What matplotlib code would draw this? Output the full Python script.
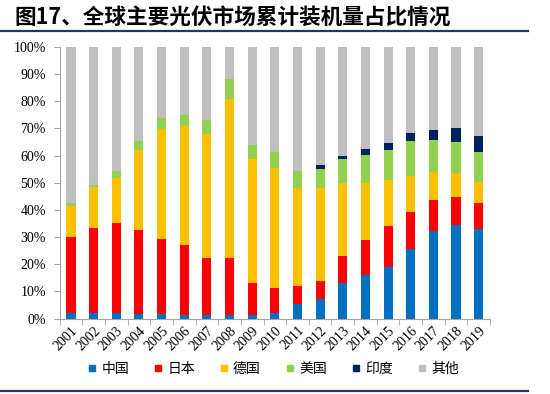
import matplotlib
matplotlib.use("Agg")
import matplotlib.pyplot as plt
from matplotlib.lines import Line2D
import numpy as np

years = [str(y) for y in range(2001, 2020)]
# cumulative tops (%)
china_top = [2.2, 2.2, 2.2, 1.8, 1.5, 1.3, 1.2, 1.2, 1.2, 2.0, 5.3, 7.1, 12.9, 16.1, 19.1, 25.6, 32.1, 34.4, 32.8]
japan_top = [30.1, 33.2, 35.2, 32.6, 29.4, 27.1, 22.2, 22.2, 12.9, 11.2, 12.1, 13.7, 22.9, 28.9, 33.9, 39.3, 43.6, 44.9, 42.4]
germany_top = [41.5, 48.3, 51.6, 62.0, 69.9, 71.0, 67.8, 80.8, 58.6, 55.5, 48.2, 47.9, 49.9, 50.0, 51.0, 52.6, 53.9, 53.7, 50.1]
usa_top = [42.4, 49.0, 54.3, 65.4, 73.8, 75.0, 73.0, 88.1, 63.8, 61.2, 54.3, 55.0, 58.6, 60.4, 62.0, 65.4, 65.9, 65.1, 61.3]
india_top = [42.4, 49.0, 54.3, 65.4, 73.8, 75.0, 73.0, 88.1, 63.8, 61.2, 54.3, 56.5, 59.9, 62.5, 64.5, 68.5, 69.4, 70.1, 67.4]

tops = [china_top, japan_top, germany_top, usa_top, india_top, [100.0] * len(years)]
labels = ["中国", "日本", "德国", "美国", "印度", "其他"]
colors = ["#0070C0", "#FF0000", "#FFC000", "#92D050", "#002060", "#BFBFBF"]

fig = plt.figure(figsize=(5.5, 3.94), dpi=100)
ax = fig.add_axes([59.7 / 550, 1 - 318.5 / 394, (490 - 59.7) / 550, (318.5 - 47) / 394])

x = np.arange(len(years))
prev = np.zeros(len(years))
for top, lab, col in zip(tops, labels, colors):
    t = np.array(top)
    ax.bar(x, t - prev, bottom=prev, width=0.4, color=col, label=lab, linewidth=0)
    prev = t

ax.set_xlim(-0.5, len(years) - 0.5)
ax.set_ylim(0, 100)
ax.set_yticks(np.arange(0, 101, 10))
ax.set_yticklabels([f"{v}%" for v in range(0, 101, 10)], fontfamily="Liberation Serif", fontsize=10)
ax.set_xticks(x)
ax.set_xticklabels(years, rotation=45, ha="right", rotation_mode="anchor",
                   fontfamily="Liberation Serif", fontsize=10)
ax.tick_params(axis="x", length=0, pad=4)
ax.set_xticks(np.arange(-0.5, len(years), 1), minor=True)
ax.tick_params(axis="x", which="minor", length=4, color="#A6A6A6", direction="out")
ax.tick_params(axis="y", length=4, color="#A6A6A6", direction="out", pad=6)
for s in ["top", "right"]:
    ax.spines[s].set_visible(False)
for s in ["left", "bottom"]:
    ax.spines[s].set_color("#A6A6A6")
    ax.spines[s].set_linewidth(0.8)

handles = [Line2D([], [], marker="s", linestyle="none", markersize=5, color=c) for c in colors]
fig.legend(handles, labels, loc="center", bbox_to_anchor=(273 / 550, 1 - 369 / 394), ncol=6,
           frameon=False, prop={"family": "Noto Sans CJK SC", "size": 10},
           handlelength=0.7, handletextpad=0.3, columnspacing=1.75)

fig.text(14 / 550, 1 - 18 / 394, "图17、全球主要光伏市场累计装机量占比情况", fontsize=15.6,
         fontweight="bold", family=["Noto Sans CJK SC", "DejaVu Sans"], va="center", ha="left")

fig.add_artist(Line2D([0, 528 / 550], [1 - 31 / 394] * 2, color="#1F3864", linewidth=1.6,
                      transform=fig.transFigure))
fig.add_artist(Line2D([0, 528 / 550], [1 - 391 / 394] * 2, color="#1F3864", linewidth=1.6,
                      transform=fig.transFigure))

fig.savefig("out.png", dpi=100)
